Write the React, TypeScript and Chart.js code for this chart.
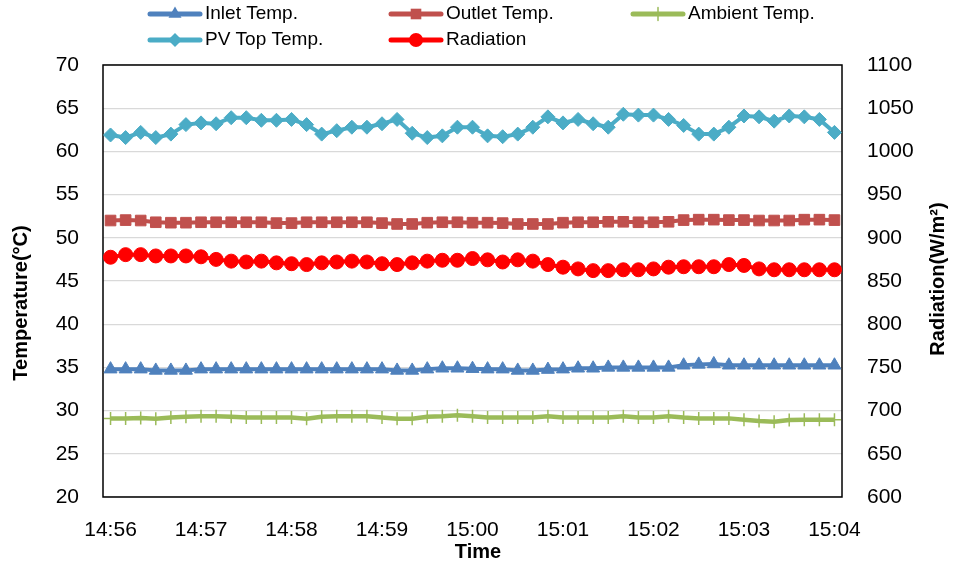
import React, { useEffect, useRef } from 'react';
import { Chart, registerables } from 'chart.js';

Chart.register(...registerables);

const timeLabels = [
  '14:56:00', '14:56:10', '14:56:20', '14:56:30', '14:56:40', '14:56:50',
  '14:57:00', '14:57:10', '14:57:20', '14:57:30', '14:57:40', '14:57:50',
  '14:58:00', '14:58:10', '14:58:20', '14:58:30', '14:58:40', '14:58:50',
  '14:59:00', '14:59:10', '14:59:20', '14:59:30', '14:59:40', '14:59:50',
  '15:00:00', '15:00:10', '15:00:20', '15:00:30', '15:00:40', '15:00:50',
  '15:01:00', '15:01:10', '15:01:20', '15:01:30', '15:01:40', '15:01:50',
  '15:02:00', '15:02:10', '15:02:20', '15:02:30', '15:02:40', '15:02:50',
  '15:03:00', '15:03:10', '15:03:20', '15:03:30', '15:03:40', '15:03:50',
  '15:04:00',
];

const inletTemp = [
  34.8, 34.8, 34.8, 34.65, 34.65, 34.65, 34.8, 34.8, 34.8, 34.8, 34.8, 34.8,
  34.8, 34.8, 34.8, 34.8, 34.8, 34.8, 34.8, 34.65, 34.65, 34.8, 34.9, 34.9,
  34.85, 34.8, 34.8, 34.65, 34.65, 34.75, 34.8, 34.9, 34.9, 35.0, 35.0, 35.0,
  35.0, 35.0, 35.25, 35.35, 35.4, 35.25, 35.25, 35.25, 35.25, 35.25, 35.25, 35.25,
  35.25,
];

const outletTemp = [
  52.0, 52.05, 52.0, 51.8, 51.75, 51.75, 51.8, 51.8, 51.8, 51.8, 51.8, 51.7,
  51.7, 51.8, 51.8, 51.8, 51.8, 51.8, 51.7, 51.6, 51.6, 51.75, 51.8, 51.8,
  51.75, 51.75, 51.7, 51.6, 51.6, 51.6, 51.75, 51.8, 51.8, 51.85, 51.85, 51.8,
  51.8, 51.85, 52.05, 52.1, 52.1, 52.05, 52.05, 52.0, 52.0, 52.0, 52.1, 52.1,
  52.05,
];

const ambientTemp = [
  29.1, 29.1, 29.15, 29.05, 29.2, 29.3, 29.35, 29.35, 29.3, 29.2, 29.2, 29.2,
  29.2, 29.05, 29.3, 29.35, 29.35, 29.35, 29.2, 29.05, 29.05, 29.3, 29.35, 29.45,
  29.35, 29.2, 29.2, 29.2, 29.2, 29.35, 29.2, 29.2, 29.2, 29.2, 29.35, 29.2,
  29.2, 29.35, 29.2, 29.1, 29.1, 29.1, 28.95, 28.8, 28.7, 28.9, 28.95, 28.95,
  28.95,
];

const pvTopTemp = [
  61.9, 61.6, 62.2, 61.6, 62.0, 63.1, 63.3, 63.2, 63.9, 63.9, 63.6, 63.6,
  63.7, 63.1, 62.0, 62.4, 62.8, 62.8, 63.2, 63.7, 62.1, 61.6, 61.8, 62.8,
  62.8, 61.8, 61.7, 62.0, 62.8, 64.0, 63.3, 63.7, 63.2, 62.8, 64.3, 64.2,
  64.2, 63.7, 63.0, 62.0, 62.0, 62.8, 64.1, 64.0, 63.5, 64.1, 64.0, 63.7,
  62.2,
];

const radiation = [
  877.5, 880.5, 880.5, 879, 879, 879, 878, 875, 873, 872, 873, 871,
  870, 869, 871, 872, 873, 872, 870, 869, 871, 873, 874, 874,
  876, 874.5, 872, 874.5, 873, 869, 866, 864, 862, 862, 863, 863,
  864, 866, 866.5, 866.5, 866.5, 869, 868, 864, 863, 863, 863, 863,
  863,
];

const tempTicks = { min: 20, max: 70, step: 5 };
const radTicks = { min: 600, max: 1100, step: 50 };

const FONT = '"Liberation Sans", Arial, sans-serif';

function drawMarker(ctx: CanvasRenderingContext2D, style: string, x: number, y: number, r: number, color: string) {
  ctx.save();
  ctx.fillStyle = color;
  ctx.strokeStyle = color;
  ctx.lineWidth = 1.5;
  ctx.beginPath();
  if (style === 'triangle') {
    ctx.moveTo(x, y - r);
    ctx.lineTo(x + r * 0.866, y + r * 0.5);
    ctx.lineTo(x - r * 0.866, y + r * 0.5);
    ctx.closePath();
    ctx.fill();
  } else if (style === 'rect') {
    const s = r * Math.SQRT1_2;
    ctx.rect(x - s, y - s, 2 * s, 2 * s);
    ctx.fill();
  } else if (style === 'rectRot') {
    ctx.moveTo(x, y - r);
    ctx.lineTo(x + r, y);
    ctx.lineTo(x, y + r);
    ctx.lineTo(x - r, y);
    ctx.closePath();
    ctx.fill();
  } else if (style === 'cross') {
    ctx.moveTo(x, y - r);
    ctx.lineTo(x, y + r);
    ctx.moveTo(x - r, y);
    ctx.lineTo(x + r, y);
    ctx.stroke();
  } else {
    ctx.arc(x, y, r, 0, Math.PI * 2);
    ctx.fill();
  }
  ctx.restore();
}

const legendLayout: Array<[number, number, number]> = [
  [0, 148, 14],
  [1, 389, 14],
  [2, 631, 14],
  [3, 148, 40],
  [4, 389, 40],
];

const decorPlugin = {
  id: 'decor',
  beforeDatasetsDraw(chart: any) {
    const { ctx, chartArea } = chart;
    ctx.save();
    ctx.strokeStyle = '#000';
    ctx.lineWidth = 1.5;
    ctx.strokeRect(chartArea.left, chartArea.top, chartArea.right - chartArea.left, chartArea.bottom - chartArea.top);
    ctx.restore();
  },
  afterDraw(chart: any) {
    const { ctx } = chart;
    ctx.save();
    ctx.font = `19px ${FONT}`;
    ctx.textBaseline = 'middle';
    ctx.textAlign = 'left';
    legendLayout.forEach(([i, x, y]) => {
      const ds = chart.data.datasets[i];
      ctx.strokeStyle = ds.borderColor;
      ctx.lineWidth = 5;
      ctx.lineCap = 'round';
      ctx.beginPath();
      ctx.moveTo(x + 2, y);
      ctx.lineTo(x + 52, y);
      ctx.stroke();
      drawMarker(ctx, ds.pointStyle, x + 27, y, ds.pointRadius, ds.borderColor);
      ctx.fillStyle = '#000';
      ctx.fillText(ds.label, x + 57, y);
    });
    ctx.fillStyle = '#000';
    ctx.font = `bold 20px ${FONT}`;
    ctx.textAlign = 'center';
    ctx.textBaseline = 'middle';
    ctx.save();
    ctx.translate(21.5, 303);
    ctx.rotate(-Math.PI / 2);
    ctx.fillText('Temperature(°C)', 0, 0);
    ctx.restore();
    ctx.save();
    ctx.translate(938, 279);
    ctx.rotate(-Math.PI / 2);
    ctx.fillText('Radiation(W/m²)', 0, 0);
    ctx.restore();
    ctx.fillText('Time', 478, 552);
    ctx.restore();
  },
};

export default function App() {
  const canvasRef = useRef<HTMLCanvasElement | null>(null);

  useEffect(() => {
    if (!canvasRef.current) return;
    const chart = new Chart(canvasRef.current, {
      type: 'line',
      data: {
        labels: timeLabels,
        datasets: [
          {
            label: 'Inlet Temp.',
            data: inletTemp,
            yAxisID: 'y',
            borderColor: '#4F81BD',
            backgroundColor: '#4F81BD',
            borderWidth: 4,
            pointStyle: 'triangle',
            pointRadius: 7.5,
            pointBorderWidth: 1,
          },
          {
            label: 'Outlet Temp.',
            data: outletTemp,
            yAxisID: 'y',
            borderColor: '#C0504D',
            backgroundColor: '#C0504D',
            borderWidth: 4,
            pointStyle: 'rect',
            pointRadius: 7.5,
            pointBorderWidth: 1,
          },
          {
            label: 'Ambient Temp.',
            data: ambientTemp,
            yAxisID: 'y',
            borderColor: '#9BBB59',
            backgroundColor: '#9BBB59',
            borderWidth: 4.5,
            pointStyle: 'cross',
            pointRadius: 6.5,
            pointBorderWidth: 1.5,
          },
          {
            label: 'PV Top Temp.',
            data: pvTopTemp,
            yAxisID: 'y',
            borderColor: '#4BACC6',
            backgroundColor: '#4BACC6',
            borderWidth: 4,
            pointStyle: 'rectRot',
            pointRadius: 7,
            pointBorderWidth: 1,
          },
          {
            label: 'Radiation',
            data: radiation,
            yAxisID: 'y1',
            borderColor: '#FF0000',
            backgroundColor: '#FF0000',
            borderWidth: 4,
            pointStyle: 'circle',
            pointRadius: 7,
            pointBorderWidth: 1,
          },
        ],
      },
      options: {
        responsive: false,
        animation: false,
        devicePixelRatio: 1,
        layout: { padding: { top: 65, left: 0, right: 0, bottom: 0 } },
        plugins: {
          legend: { display: false },
          tooltip: { enabled: false },
          title: { display: false },
        },
        elements: { line: { tension: 0 } },
        scales: {
          x: {
            type: 'category',
            offset: true,
            grid: { display: false, drawTicks: false },
            border: { display: false },
            ticks: {
              autoSkip: false,
              maxRotation: 0,
              minRotation: 0,
              padding: 21,
              color: '#000',
              font: { family: FONT, size: 21 },
              callback: (_v: any, i: number) => {
                const l = timeLabels[i];
                return l.endsWith(':00') ? l.slice(0, 5) : '';
              },
            },
            afterFit: (s: any) => { s.height = 70; },
          },
          y: {
            position: 'left',
            min: tempTicks.min,
            max: tempTicks.max,
            grid: { color: '#D9D9D9', lineWidth: 1.3, drawTicks: false },
            border: { display: false },
            ticks: {
              stepSize: tempTicks.step,
              padding: 24,
              color: '#000',
              font: { family: FONT, size: 21 },
              callback: (v: any) => String(v),
            },
            afterFit: (s: any) => { s.width = 103; },
          },
          y1: {
            position: 'right',
            min: radTicks.min,
            max: radTicks.max,
            grid: { display: false, drawTicks: false },
            border: { display: false },
            ticks: {
              stepSize: radTicks.step,
              padding: 25,
              color: '#000',
              font: { family: FONT, size: 21 },
              callback: (v: any) => String(v),
            },
            afterFit: (s: any) => { s.width = 112; },
          },
        },
      },
      plugins: [decorPlugin],
    });
    return () => chart.destroy();
  }, []);

  return (
    <div style={{ position: 'fixed', left: 0, top: 0, width: 954, height: 567, background: '#fff' }}>
      <canvas ref={canvasRef} width={954} height={567} style={{ width: 954, height: 567 }} />
    </div>
  );
}
